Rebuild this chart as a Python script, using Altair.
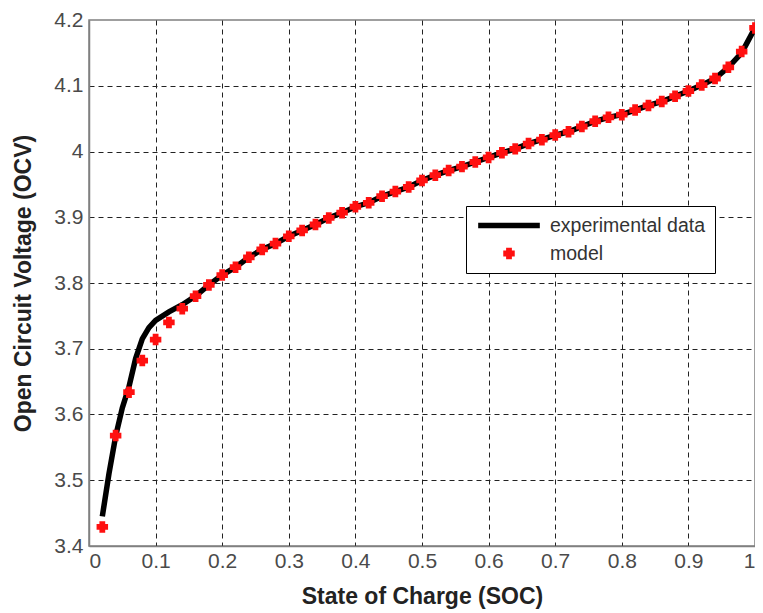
import altair as alt
import pandas as pd

# Experimental OCV curve (black line)
exp_soc = [0.02, 0.03, 0.04, 0.05, 0.06, 0.07, 0.08, 0.09, 0.10, 0.12, 0.14, 0.16, 0.18,
           0.20, 0.22, 0.24, 0.26, 0.28, 0.30, 0.32, 0.34, 0.36, 0.38, 0.40, 0.42, 0.44,
           0.46, 0.48, 0.50, 0.52, 0.54, 0.56, 0.58, 0.60, 0.62, 0.64, 0.66, 0.68, 0.70,
           0.72, 0.74, 0.76, 0.78, 0.80, 0.82, 0.84, 0.86, 0.88, 0.90, 0.92, 0.94, 0.96,
           0.98, 1.00]
exp_ocv = [3.445, 3.510, 3.567, 3.610, 3.642, 3.685, 3.715, 3.732, 3.743, 3.756, 3.767, 3.780, 3.797,
           3.812, 3.824, 3.839, 3.851, 3.860, 3.871, 3.880, 3.889, 3.899, 3.907, 3.916, 3.922, 3.932,
           3.939, 3.946, 3.956, 3.964, 3.971, 3.977, 3.984, 3.991, 3.998, 4.004, 4.012, 4.018, 4.025,
           4.030, 4.038, 4.046, 4.052, 4.056, 4.063, 4.070, 4.076, 4.084, 4.092, 4.101, 4.111, 4.128,
           4.150, 4.188]

# Model points (red crosses)
model_soc = [0.02, 0.04, 0.06, 0.08, 0.10, 0.12, 0.14, 0.16, 0.18, 0.20, 0.22, 0.24, 0.26,
             0.28, 0.30, 0.32, 0.34, 0.36, 0.38, 0.40, 0.42, 0.44, 0.46, 0.48, 0.50, 0.52,
             0.54, 0.56, 0.58, 0.60, 0.62, 0.64, 0.66, 0.68, 0.70, 0.72, 0.74, 0.76, 0.78,
             0.80, 0.82, 0.84, 0.86, 0.88, 0.90, 0.92, 0.94, 0.96, 0.98, 1.00]
model_ocv = [3.429, 3.568, 3.634, 3.682, 3.714, 3.740, 3.761, 3.780, 3.797, 3.812, 3.824, 3.839, 3.851,
             3.860, 3.871, 3.880, 3.889, 3.899, 3.907, 3.916, 3.922, 3.932, 3.939, 3.946, 3.956, 3.964,
             3.971, 3.977, 3.984, 3.991, 3.998, 4.004, 4.012, 4.018, 4.025, 4.030, 4.038, 4.046, 4.052,
             4.056, 4.063, 4.070, 4.076, 4.084, 4.092, 4.101, 4.111, 4.128, 4.152, 4.188]

series_names = ["experimental data", "model"]
x_ticks = [0, 0.1, 0.2, 0.3, 0.4, 0.5, 0.6, 0.7, 0.8, 0.9, 1]
y_ticks = [3.4, 3.5, 3.6, 3.7, 3.8, 3.9, 4.0, 4.1, 4.2]

df_exp = pd.DataFrame({"soc": exp_soc, "ocv": exp_ocv, "series": series_names[0]})
df_mod = pd.DataFrame({"soc": model_soc, "ocv": model_ocv, "series": series_names[1]})
df = pd.concat([df_exp, df_mod], ignore_index=True)

FONT = "Liberation Sans"
RED = "#ff1010"
grid_cond_x = {"condition": {"test": "datum.value <= 0.001 || datum.value >= 0.999", "value": "transparent"}, "value": "#222222"}
grid_cond_y = {"condition": {"test": "datum.value <= 3.401 || datum.value >= 4.199", "value": "transparent"}, "value": "#222222"}

x_enc = alt.X("soc:Q", scale=alt.Scale(domain=[0, 1], nice=False, zero=False),
              axis=alt.Axis(values=x_ticks, title="State of Charge (SOC)",
                            labelExpr="format(datum.value, '~g')", gridColor=grid_cond_x))
y_enc = alt.Y("ocv:Q", scale=alt.Scale(domain=[3.4, 4.2], nice=False, zero=False),
              axis=alt.Axis(values=y_ticks, title="Open Circuit Voltage (OCV)",
                            labelExpr="format(datum.value, '~g')", gridColor=grid_cond_y))

color = alt.Color("series:N", scale=alt.Scale(domain=series_names, range=["#000000", RED]),
                  legend=alt.Legend(title=None, orient="none", legendX=377, legendY=186,
                                    strokeColor="#000000", fillColor="#ffffff", padding=9,
                                    labelFont=FONT, labelFontSize=19.5, labelColor="#333333",
                                    rowPadding=7, labelOffset=7, clipHeight=21))
shape = alt.Shape("series:N", scale=alt.Scale(domain=series_names, range=["stroke", "cross"]))
size = alt.Size("series:N", scale=alt.Scale(domain=series_names, range=[3800, 90]))
sw = alt.StrokeWidth("series:N", scale=alt.Scale(domain=series_names, range=[5.5, 2]))

line = alt.Chart(df).transform_filter(
    alt.datum.series == series_names[0]
).mark_line().encode(x=x_enc, y=y_enc, color=color, strokeWidth=sw)

pts = alt.Chart(df).transform_filter(
    alt.datum.series == series_names[1]
).mark_point(filled=True, opacity=1).encode(
    x=x_enc, y=y_enc, color=color, shape=shape, size=size, strokeWidth=sw,
    stroke=alt.value(RED))

chart = alt.layer(line, pts).properties(
    width=666, height=526,
    autosize=alt.AutoSizeParams(type="none"),
    padding={"left": 81, "top": 12, "right": 0, "bottom": 66},
).configure_view(stroke="#808080", strokeWidth=1.5).configure_axis(
    labelFont=FONT, labelFontSize=21, labelColor="#4a4a4a",
    titleFont=FONT, titleFontSize=23, titleFontWeight="bold", titleColor="#222222",
    ticks=False, domainColor="#808080", domainWidth=1.5,
    gridDash=[5, 4], gridWidth=1, gridOpacity=1,
).configure_axisY(titlePadding=18, labelPadding=6).configure_axisX(titlePadding=14, labelPadding=4)

chart.save("out.html", embed_options={"renderer": "svg", "actions": False})
